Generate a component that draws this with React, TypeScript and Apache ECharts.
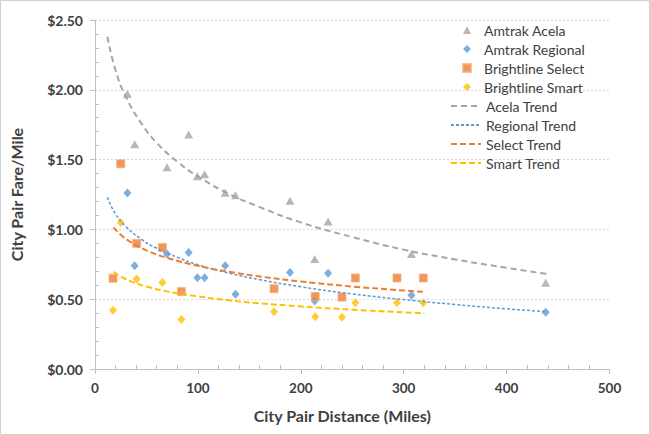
import React, { useEffect, useRef } from "react";
import * as echarts from "echarts";

// City-pair distances (miles)
const amtrakDist = [31.5, 38.5, 70, 91, 99.5, 106.5, 126.5, 136.5, 189.5, 213.5, 226.5, 307.5, 438];
const acelaFare = [1.97, 1.61, 1.445, 1.68, 1.38, 1.395, 1.263, 1.244, 1.206, 0.788, 1.057, 0.824, 0.618];
const regionalFare = [1.26, 0.74, 0.824, 0.835, 0.653, 0.653, 0.74, 0.536, 0.692, 0.488, 0.685, 0.528, 0.406];

const brightlineDist = [17.5, 25, 40.5, 65.5, 84, 174, 214, 240, 253, 293.5, 319];
const selectFare = [0.65, 1.47, 0.9, 0.87, 0.555, 0.575, 0.52, 0.515, 0.652, 0.652, 0.652];
const smartFare = [0.42, 1.05, 0.645, 0.62, 0.355, 0.41, 0.375, 0.37, 0.475, 0.475, 0.475];

// Trend curves
const amtrakTrendDist = [12, 20, 30, 45, 60, 80, 100, 130, 160, 200, 250, 300, 350, 400, 440];
const acelaTrend = [2.38, 2.14, 1.95, 1.76, 1.62, 1.485, 1.38, 1.255, 1.16, 1.05, 0.945, 0.855, 0.785, 0.725, 0.68];
const regionalTrend = [1.23, 1.11, 1.02, 0.93, 0.865, 0.8, 0.747, 0.687, 0.64, 0.589, 0.538, 0.497, 0.462, 0.431, 0.41];

const brightTrendDist = [18, 25, 35, 50, 70, 100, 130, 160, 200, 250, 320];
const selectTrend = [1.015, 0.962, 0.908, 0.85, 0.796, 0.739, 0.697, 0.663, 0.627, 0.591, 0.552];
const smartTrend = [0.697, 0.663, 0.628, 0.591, 0.556, 0.52, 0.492, 0.471, 0.448, 0.425, 0.399];

const markerNames = ["Amtrak Acela", "Amtrak Regional", "Brightline Select", "Brightline Smart"];
const trendNames = ["Acela Trend", "Regional Trend", "Select Trend", "Smart Trend"];

const xTicks = { min: 0, max: 500, interval: 100 };
const yTicks = { min: 0, max: 2.5, interval: 0.5 };

const zip = (xs: number[], ys: number[]) => xs.map((x, i) => [x, ys[i]]);

const FONT = "Lato, 'Open Sans', sans-serif";

export default function App() {
  const ref = useRef<HTMLDivElement>(null);
  useEffect(() => {
    if (!ref.current) return;
    const chart = echarts.init(ref.current, undefined, { renderer: "svg" });
    const axisCommon = {
      axisLine: { show: true, lineStyle: { color: "#bfbfbf", width: 1 } },
      axisTick: { show: true, length: 5, lineStyle: { color: "#bfbfbf" } },
      minorTick: { show: true, splitNumber: 5, length: -4, lineStyle: { color: "#bfbfbf" } },
      axisLabel: { color: "#404040", fontWeight: "bold", fontSize: 14, fontFamily: FONT, margin: 12 },
      nameTextStyle: { color: "#404040", fontWeight: "bold", fontSize: 16, fontFamily: FONT },
    };
    const legendText = { color: "#404040", fontSize: 14, fontFamily: FONT };
    chart.setOption({
      animation: false,
      backgroundColor: "#ffffff",
      textStyle: { fontFamily: FONT },
      grid: { left: 92.5, right: 40.5, top: 20, bottom: 66, containLabel: false },
      graphic: [
        {
          type: "rect",
          shape: { x: 0.5, y: 0.5, width: 649, height: 434 },
          style: { fill: "none", stroke: "#d0d0d0", lineWidth: 1 },
          silent: true,
        },
      ],
      legend: [
        {
          orient: "vertical",
          left: 462,
          top: 23,
          itemWidth: 8,
          itemHeight: 8,
          itemGap: 5,
          padding: 0,
          textStyle: { ...legendText, padding: [0, 0, 0, 8] },
          data: markerNames,
        },
        {
          orient: "vertical",
          left: 450,
          top: 99,
          itemWidth: 30,
          itemHeight: 8,
          itemGap: 5,
          padding: 0,
          itemStyle: { opacity: 0 },
          textStyle: legendText,
          data: trendNames,
        },
      ],
      xAxis: {
        type: "value",
        ...xTicks,
        name: "City Pair Distance (Miles)",
        nameLocation: "middle",
        nameGap: 38,
        ...axisCommon,
        nameTextStyle: { ...axisCommon.nameTextStyle, padding: [0, 20, 0, 0] },
        axisLabel: { ...axisCommon.axisLabel, fontSize: 13.5, margin: 12 },
        splitLine: { show: false },
      },
      yAxis: {
        type: "value",
        ...yTicks,
        name: "City Pair Fare/Mile",
        nameLocation: "middle",
        nameGap: 71,
        ...axisCommon,
        axisLabel: { ...axisCommon.axisLabel, formatter: (v: number) => "$" + v.toFixed(2) },
        splitLine: { show: true, lineStyle: { color: "#d9d9d9", type: [2, 2], width: 1 } },
      },
      series: [
        {
          name: "Amtrak Acela",
          type: "scatter",
          symbol: "triangle",
          symbolSize: [9, 8],
          itemStyle: { color: "#a5a5a5" },
          data: zip(amtrakDist, acelaFare),
          z: 3,
        },
        {
          name: "Amtrak Regional",
          type: "scatter",
          symbol: "diamond",
          symbolSize: [8, 9],
          itemStyle: { color: "#5b9bd5" },
          data: zip(amtrakDist, regionalFare),
          z: 3,
        },
        {
          name: "Brightline Select",
          type: "scatter",
          symbol: "rect",
          symbolSize: 8,
          itemStyle: { color: "#ed7d31", borderColor: "#f4b183", borderWidth: 1 },
          data: zip(brightlineDist, selectFare),
          z: 3,
        },
        {
          name: "Brightline Smart",
          type: "scatter",
          symbol: "diamond",
          symbolSize: [8, 9],
          itemStyle: { color: "#ffc000" },
          data: zip(brightlineDist, smartFare),
          z: 3,
        },
        {
          name: "Acela Trend",
          type: "line",
          smooth: true,
          symbol: "none",
          lineStyle: { color: "#a5a5a5", width: 2, type: [6, 4] },
          itemStyle: { color: "#a5a5a5" },
          data: zip(amtrakTrendDist, acelaTrend),
          z: 4,
        },
        {
          name: "Regional Trend",
          type: "line",
          smooth: true,
          symbol: "none",
          lineStyle: { color: "#5b9bd5", width: 1.5, type: [3, 2] },
          itemStyle: { color: "#5b9bd5" },
          data: zip(amtrakTrendDist, regionalTrend),
          z: 4,
        },
        {
          name: "Select Trend",
          type: "line",
          smooth: true,
          symbol: "none",
          lineStyle: { color: "#ed7d31", width: 2, type: [6, 3] },
          itemStyle: { color: "#ed7d31" },
          data: zip(brightTrendDist, selectTrend),
          z: 4,
        },
        {
          name: "Smart Trend",
          type: "line",
          smooth: true,
          symbol: "none",
          lineStyle: { color: "#ffc000", width: 2, type: [6, 3] },
          itemStyle: { color: "#ffc000" },
          data: zip(brightTrendDist, smartTrend),
          z: 4,
        },
      ],
    });
    return () => chart.dispose();
  }, []);
  return (
    <div
      ref={ref}
      style={{ position: "absolute", left: 0, top: 0, width: 650, height: 435 }}
    />
  );
}
